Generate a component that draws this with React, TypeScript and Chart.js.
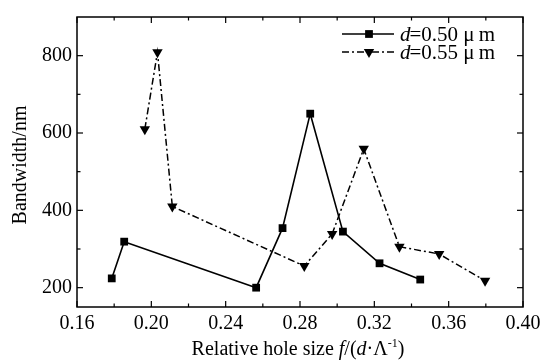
import React, { useEffect, useRef } from 'react';
import { Chart, registerables } from 'chart.js';

Chart.register(...registerables);

// ---- data ----
const seriesNames = ['0.50', '0.55'];
const xA = [0.1787, 0.1854, 0.2564, 0.2706, 0.2855, 0.3031, 0.3228, 0.3447];
const yA = [224, 319, 200, 354, 650, 345, 263, 221];
const xB = [0.1965, 0.2033, 0.2113, 0.2823, 0.2973, 0.3143, 0.3335, 0.3549, 0.3796];
const yB = [610, 809, 410, 256, 339, 559, 306, 287, 218];
const xMajor = [0.16, 0.2, 0.24, 0.28, 0.32, 0.36, 0.4];
const xMinor = [0.18, 0.22, 0.26, 0.3, 0.34, 0.38];
const yMajor = [200, 400, 600, 800];
const yMinor = [300, 500, 700];
const yTitle = 'Bandwidth/nm';

const FONT = '"Liberation Serif", "Times New Roman", serif';

function drawMarker(ctx: CanvasRenderingContext2D, style: string, r: number, rot: number, x: number, y: number) {
  ctx.beginPath();
  if (style === 'rect') {
    const s = Math.SQRT1_2 * r;
    ctx.rect(x - s, y - s, 2 * s, 2 * s);
  } else {
    let rad = (rot * Math.PI) / 180;
    ctx.moveTo(x + Math.sin(rad) * r, y - Math.cos(rad) * r);
    rad += (2 * Math.PI) / 3;
    ctx.lineTo(x + Math.sin(rad) * r, y - Math.cos(rad) * r);
    rad += (2 * Math.PI) / 3;
    ctx.lineTo(x + Math.sin(rad) * r, y - Math.cos(rad) * r);
    ctx.closePath();
  }
  ctx.fill();
}

const decorPlugin = {
  id: 'decor',
  afterDraw(chart: any) {
    const ctx = chart.ctx as CanvasRenderingContext2D;
    const { left, right, top, bottom } = chart.chartArea;
    const xs = chart.scales.x;
    const ys = chart.scales.y;
    ctx.save();
    ctx.strokeStyle = '#000';
    ctx.lineWidth = 1.5;
    ctx.strokeRect(left, top, right - left, bottom - top);
    ctx.lineWidth = 1.2;
    const tick = (x1: number, y1: number, x2: number, y2: number) => {
      ctx.beginPath();
      ctx.moveTo(x1, y1);
      ctx.lineTo(x2, y2);
      ctx.stroke();
    };
    xMajor.forEach((v) => {
      const p = xs.getPixelForValue(v);
      tick(p, bottom, p, bottom - 6);
      tick(p, top, p, top + 6);
    });
    xMinor.forEach((v) => {
      const p = xs.getPixelForValue(v);
      tick(p, bottom, p, bottom - 3.5);
      tick(p, top, p, top + 3.5);
    });
    yMajor.forEach((v) => {
      const p = ys.getPixelForValue(v);
      tick(left, p, left + 6, p);
      tick(right, p, right - 6, p);
    });
    yMinor.forEach((v) => {
      const p = ys.getPixelForValue(v);
      tick(left, p, left + 3.5, p);
      tick(right, p, right - 3.5, p);
    });

    // y title
    ctx.fillStyle = '#000';
    ctx.save();
    ctx.translate(21, 165);
    ctx.rotate(-Math.PI / 2);
    ctx.font = `20px ${FONT}`;
    ctx.textAlign = 'center';
    ctx.textBaseline = 'middle';
    ctx.fillText(yTitle, 0, 0);
    ctx.restore();

    // x title with italics
    const parts: [string, string, number][] = [
      ['Relative hole size ', `20px ${FONT}`, 0],
      ['f', `italic 20px ${FONT}`, 0],
      ['/(', `20px ${FONT}`, 0],
      ['d', `italic 20px ${FONT}`, 0],
      ['\u00b7', `20px ${FONT}`, 0],
      ['\u039b', `20px ${FONT}`, 0],
      ['-1', `12px ${FONT}`, -8],
      [')', `20px ${FONT}`, 0],
    ];
    ctx.textAlign = 'left';
    ctx.textBaseline = 'alphabetic';
    let total = 0;
    parts.forEach(([t, f]) => {
      ctx.font = f;
      total += ctx.measureText(t).width;
    });
    let cx = 298 - total / 2;
    const base = 355;
    parts.forEach(([t, f, dy]) => {
      ctx.font = f;
      ctx.fillText(t, cx, base + dy);
      cx += ctx.measureText(t).width;
    });

    // legend
    const rows = [
      { y: 34, dash: [] as number[], style: 'rect', r: 5.5, rot: 0, name: seriesNames[0] },
      { y: 52, dash: [7, 3, 2, 3], style: 'triangle', r: 6, rot: 180, name: seriesNames[1] },
    ];
    rows.forEach((row) => {
      ctx.lineWidth = 1.5;
      ctx.setLineDash(row.dash);
      ctx.beginPath();
      ctx.moveTo(342, row.y);
      ctx.lineTo(394, row.y);
      ctx.stroke();
      ctx.setLineDash([]);
      ctx.fillStyle = '#000';
      drawMarker(ctx, row.style, row.r, row.rot, 369, row.y);
      ctx.textBaseline = 'middle';
      ctx.font = `italic 21px ${FONT}`;
      ctx.fillText('d', 400, row.y + 1);
      const w = ctx.measureText('d').width;
      ctx.font = `21px ${FONT}`;
      ctx.fillText('=' + row.name + ' \u03bc\u2009m', 400 + w - 1, row.y + 1);
    });
    ctx.restore();
  },
};

export default function App() {
  const ref = useRef<HTMLCanvasElement | null>(null);
  useEffect(() => {
    document.body.style.margin = '0';
    const canvas = ref.current!;
    const chart = new Chart(canvas, {
      type: 'line',
      data: {
        datasets: [
          {
            label: 'd=0.50 μm',
            data: xA.map((x, i) => ({ x, y: yA[i] })),
            borderColor: '#000',
            backgroundColor: '#000',
            borderWidth: 1.6,
            pointStyle: 'rect',
            pointRadius: 5.5,
            pointBorderWidth: 0,
            tension: 0,
          },
          {
            label: 'd=0.55 μm',
            data: xB.map((x, i) => ({ x, y: yB[i] })),
            borderColor: '#000',
            backgroundColor: '#000',
            borderWidth: 1.5,
            borderDash: [7, 3, 2, 3],
            pointStyle: 'triangle',
            pointRotation: 180,
            pointRadius: 6,
            pointBorderWidth: 0,
            tension: 0,
          },
        ],
      },
      options: {
        responsive: false,
        animation: false,
        devicePixelRatio: 1,
        layout: { padding: { left: 0, right: 24, top: 13, bottom: 0 } },
        plugins: { legend: { display: false }, tooltip: { enabled: false } },
        scales: {
          x: {
            type: 'linear',
            min: 0.16,
            max: 0.4,
            grid: { display: false, drawTicks: false },
            border: { display: false },
            afterFit: (s: any) => { s.height = 56; },
            afterBuildTicks: (s: any) => { s.ticks = xMajor.map((v) => ({ value: v })); },
            ticks: {
              color: '#000',
              padding: 5,
              maxRotation: 0,
              autoSkip: false,
              font: { family: FONT, size: 20 },
              callback: (v: any) => Number(v).toFixed(2),
            },
          },
          y: {
            type: 'linear',
            min: 150,
            max: 900,
            grid: { display: false, drawTicks: false },
            border: { display: false },
            afterFit: (s: any) => { s.width = 77; },
            afterBuildTicks: (s: any) => { s.ticks = yMajor.map((v) => ({ value: v })); },
            ticks: {
              color: '#000',
              padding: 5,
              autoSkip: false,
              font: { family: FONT, size: 20 },
            },
          },
        },
      },
      plugins: [decorPlugin],
    });
    return () => chart.destroy();
  }, []);
  return (
    <div style={{ position: 'fixed', left: 0, top: 0, width: 547, height: 363, background: '#fff' }}>
      <canvas ref={ref} width={547} height={363} style={{ width: 547, height: 363 }} />
    </div>
  );
}
